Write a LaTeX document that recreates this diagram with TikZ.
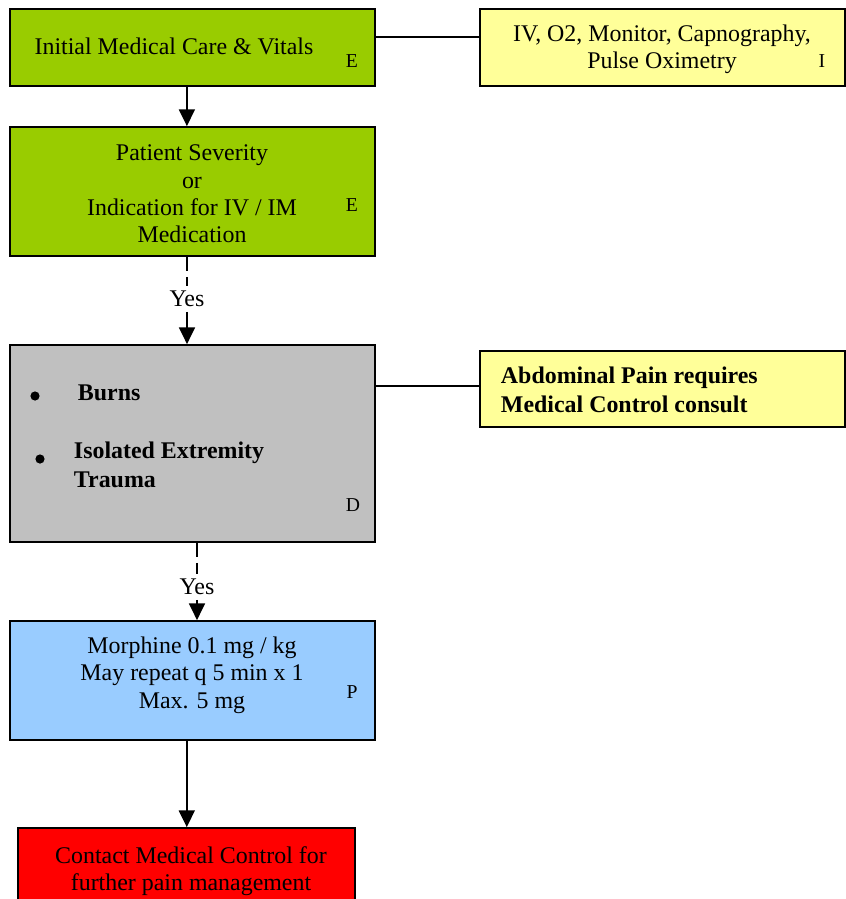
\documentclass[tikz,border=0pt]{standalone}
\usepackage{fontspec}
\setmainfont{Liberation Serif}
\usetikzlibrary{arrows.meta, positioning}

\definecolor{leaf}{HTML}{99CC00}
\definecolor{note}{HTML}{FFFF99}
\definecolor{silver}{HTML}{C0C0C0}
\definecolor{sky}{HTML}{99CCFF}

\begin{document}
\begin{tikzpicture}[x=0.025cm, y=-0.025cm,
        box/.style={draw, line width=1.2pt, minimum width=9.125cm, inner sep=0pt},
        txt/.style={align=center, font=\fontsize{17}{19.4}\selectfont},
        boldtxt/.style={anchor=west, align=left, font=\fontsize{17}{20.2}\selectfont\bfseries},
        tag/.style={font=\fontsize{14}{16}\selectfont},
        dot/.style={circle, fill=black, inner sep=0pt, minimum size=0.23cm},
        link/.style={line width=1.2pt},
        dashlink/.style={line width=1.2pt, dash pattern=on 0.35cm off 0.15cm},
        arrow/.style={-{Triangle[length=0.42cm, width=0.4cm]}, line width=1.2pt}
    ]
        \clip (0,0) rectangle (846,899);

        % Initial care
        \node[box, fill=leaf, minimum height=1.925cm] (initial) at (192.5,47.5) {};
        \node[txt] (initialtxt) at (174,46) {Initial Medical Care \& Vitals};
        \node[tag] (initialtag) at (352,61) {E};

        % Monitoring
        \node[box, fill=note, minimum height=1.925cm] (monitor) at (662.5,47.5) {};
        \node[txt] (monitortxt) at (662,49) {IV, O2, Monitor, Capnography,\\Pulse Oximetry};
        \node[tag] (monitortag) at (822,61) {I};

        \draw[link] ([yshift=0.26cm]initial.east) -- ([yshift=0.26cm]monitor.west);

        % Severity
        \node[box, fill=leaf, minimum height=3.225cm] (severity) at (192.5,191.5) {};
        \node[txt] (severitytxt) at (192,194) {Patient Severity\\or\\Indication for IV / IM\\Medication};
        \node[tag] (severitytag) at (352,205) {E};

        \draw[arrow] ([xshift=-0.14cm]initial.south) -- ([xshift=-0.14cm]severity.north);

        % Body part
        \node[box, fill=silver, minimum height=4.925cm] (bodypart) at (192.5,443.5) {};
        \node[dot] (dotburns) at (35,396) {};
        \node[boldtxt] (burns) at (73,393) {Burns};
        \node[dot] (dottrauma) at (40,459) {};
        \node[boldtxt, font=\fontsize{17}{20.6}\selectfont\bfseries] (trauma) at (69,465) {Isolated Extremity\\Trauma};
        \node[tag] (bodyparttag) at (353,505) {D};

        \node[txt] (yesone) at (187,299) {Yes};
        \draw[dashlink] (severity.south -| yesone) -- (yesone.north);
        \draw[arrow] (yesone.south) -- (yesone |- bodypart.north);

        % Abdominal pain note
        \node[box, fill=note, minimum height=1.9cm] (abdominal) at (662.5,389) {};
        \node[boldtxt] (abdominaltxt) at (496,390) {Abdominal Pain requires\\Medical Control consult};

        \draw[link] ([yshift=0.075cm]abdominal.west) -- ([yshift=0.075cm]abdominal.west -| bodypart.east);

        % Morphine
        \node[box, fill=sky, minimum height=2.975cm] (morphine) at (192.5,680.5) {};
        \node[txt] (morphinetxt) at (192,675) {Morphine 0.1 mg / kg\\May repeat q 5 min x 1\\Max. 5 mg};
        \node[tag] (morphinetag) at (352,692) {P};

        \node[txt] (yestwo) at (197,587) {Yes};
        \draw[dashlink] (bodypart.south -| yestwo) -- (yestwo.north);
        \draw[arrow] (yestwo.south) -- (yestwo |- morphine.north);

        % Medical control
        \node[box, fill=red, minimum width=8.425cm, minimum height=2.25cm] (control) at (186.5,873) {};
        \node[txt] (controltxt) at (191,871) {Contact Medical Control for\\further pain management};

        \draw[arrow] ([xshift=0.2pt]morphine.south -| control) -- ([xshift=0.2pt]control.north);

    \end{tikzpicture}
\end{document}
